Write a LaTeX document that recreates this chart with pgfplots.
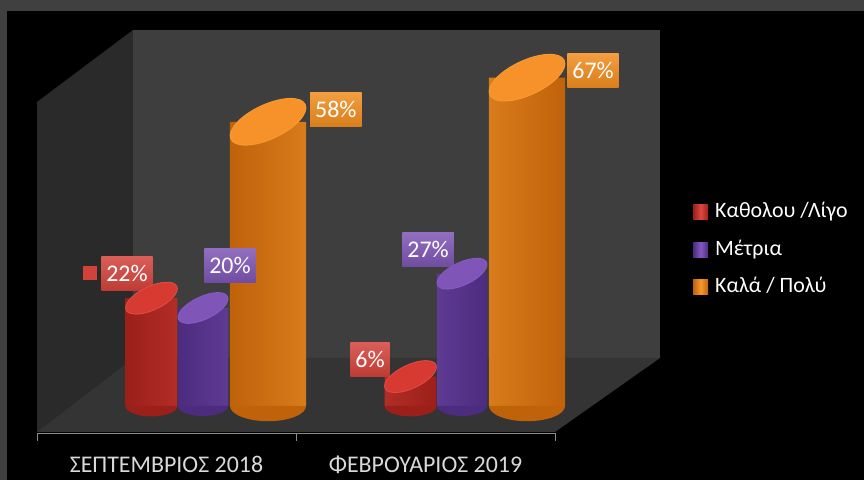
\documentclass[border=0pt]{standalone}
\usepackage{pgfplots}
\pgfplotsset{compat=1.18}
\usepackage{fontspec}
\setmainfont{Carlito}
\definecolor{framegray}{HTML}{404040}
\definecolor{backwall}{HTML}{3E3E3E}
\definecolor{leftwall}{HTML}{2A2A2A}
\definecolor{floorc}{HTML}{343434}
\definecolor{axisgray}{HTML}{8C8C8C}
\definecolor{labelgray}{HTML}{D9D9D9}
\definecolor{rdark}{HTML}{9C1F1A}
\definecolor{rmid}{HTML}{C9342A}
\definecolor{rlight}{HTML}{DC4A40}
\definecolor{rcap}{HTML}{D63A31}
\definecolor{rlab}{HTML}{D2423A}
\definecolor{pdark}{HTML}{4C2C7E}
\definecolor{pmid}{HTML}{6E43A8}
\definecolor{plight}{HTML}{8559C0}
\definecolor{pcap}{HTML}{7F55B8}
\definecolor{plab}{HTML}{7D55B3}
\definecolor{odark}{HTML}{C0620A}
\definecolor{omid}{HTML}{E6800F}
\definecolor{olight}{HTML}{F59A30}
\definecolor{ocap}{HTML}{F7922A}
\definecolor{olab}{HTML}{F08C1E}
\pgfdeclareplotmark{lowhalf}{%
  \pgfpathmoveto{\pgfqpoint{-\pgfplotmarksize}{0pt}}%
  \pgfpatharc{180}{360}{\pgfplotmarksize}%
  \pgfpathclose
  \pgfusepathqfill}
\begin{document}
\begin{tikzpicture}[x=1bp,y=1bp]
\fill[black] (0,0) rectangle (864,480);
\fill[framegray] (0,469) rectangle (864,480);
\fill[framegray] (0,0) rectangle (7,480);
\fill[leftwall] (37,378) -- (133,450) -- (133,122) -- (37,48) -- cycle;
\fill[backwall] (133,122) rectangle (660,450);
\fill[floorc] (37,48) -- (133,122) -- (660,122) -- (555,48) -- cycle;
\useasboundingbox (0,0) rectangle (864,480);
\begin{axis}[
  at={(37bp,47bp)}, anchor=south west, scale only axis,
  width=518bp, height=403bp,
  xmin=-0.5, xmax=1.5, ymin=-5.51, ymax=76.73,
  clip=false,
  axis x line*=bottom, axis y line=none,
  x axis line style={color=axisgray, line width=0.8bp, -},
  xtick={0,1},
  xticklabels={ΣΕΠΤΕΜΒΡΙΟΣ 2018, ΦΕΒΡΟΥΑΡΙΟΣ 2019},
  major tick length=0pt,
  minor xtick={-0.5,0.5,1.5},
  minor tick length=8bp,
  tick align=outside,
  minor tick style={color=axisgray, line width=0.8bp},
  xticklabel style={font=\fontsize{24}{28}\selectfont, text=labelgray, anchor=base, yshift=-39.5bp},
  legend style={at={(1.2664,0.455)}, anchor=west, draw=none, fill=none,
    inner sep=0pt, row sep=16.5bp, text=white,
    font=\fontsize{22}{26}\selectfont,
    nodes={inner sep=0pt, text height=16bp, text depth=5bp},
    /tikz/every odd column/.append style={column sep=7bp}},
  legend cell align=left,
]
% red
\addplot[forget plot, only marks, mark=lowhalf, mark size=26bp, mark options={fill=rdark, yscale=0.4}] coordinates {(-0.058,0) (0.942,0)};
\addplot[ybar, bar width=0.2, bar shift=-0.058, draw=none, left color=rdark, right color=rdark, middle color=rlight,
  legend image code/.code={\fill[rlab] (0bp,-7.5bp) rectangle (15bp,7.5bp);}]
  coordinates {(0,22) (1,6)};
\addlegendentry{Καθολου /Λίγο}
\addplot[forget plot, only marks, mark=*, mark size=28bp, mark options={draw=rlight, line width=1bp, fill=rcap, rotate=25, yscale=0.42}] coordinates {(-0.058,22) (0.942,6)};
% purple
\addplot[forget plot, only marks, mark=lowhalf, mark size=25bp, mark options={fill=pdark, yscale=0.4}] coordinates {(0.141,0) (1.141,0)};
\addplot[ybar, bar width=0.195, bar shift=0.141, draw=none, left color=pdark, right color=pdark, middle color=plight,
  legend image code/.code={\fill[plab] (0bp,-7.5bp) rectangle (15bp,7.5bp);}]
  coordinates {(0,20) (1,27)};
\addlegendentry{Μέτρια}
\addplot[forget plot, only marks, mark=*, mark size=27bp, mark options={draw=plight, line width=1bp, fill=pcap, rotate=25, yscale=0.42}] coordinates {(0.141,20) (1.141,27)};
% orange
\addplot[forget plot, only marks, mark=lowhalf, mark size=38bp, mark options={fill=odark, yscale=0.4}] coordinates {(0.392,0) (1.392,0)};
\addplot[ybar, bar width=0.295, bar shift=0.392, draw=none, left color=odark, right color=odark, middle color=olight,
  legend image code/.code={\fill[olab] (0bp,-7.5bp) rectangle (15bp,7.5bp);}]
  coordinates {(0,58) (1,67)};
\addlegendentry{Καλά / Πολύ}
\addplot[forget plot, only marks, mark=*, mark size=41bp, mark options={draw=olight, line width=1bp, fill=ocap, rotate=25, yscale=0.42}] coordinates {(0.392,58) (1.392,67)};
% data labels
\tikzset{dl/.style={text=white, font=\fontsize{24}{28}\selectfont, minimum height=34bp, inner xsep=5bp, inner ysep=0pt, text height=16bp, text depth=1bp}}
\node[dl, top color=rlab!85!white, bottom color=rlab!90!black] at (axis cs:-0.1525,26.94) {22\%};
\node[fill=rlab, minimum width=14bp, minimum height=14bp, inner sep=0pt] at (axis cs:-0.295,27.04) {};
\node[dl, top color=rlab!85!white, bottom color=rlab!90!black] at (axis cs:0.786,9.39) {6\%};
\node[dl, top color=plab!85!white, bottom color=plab!90!black] at (axis cs:0.245,28.57) {20\%};
\node[dl, top color=plab!85!white, bottom color=plab!90!black] at (axis cs:1.010,31.84) {27\%};
\node[dl, top color=olab!85!white, bottom color=olab!90!black] at (axis cs:0.654,60.41) {58\%};
\node[dl, top color=olab!85!white, bottom color=olab!90!black] at (axis cs:1.647,68.37) {67\%};
\end{axis}
\end{tikzpicture}
\end{document}
